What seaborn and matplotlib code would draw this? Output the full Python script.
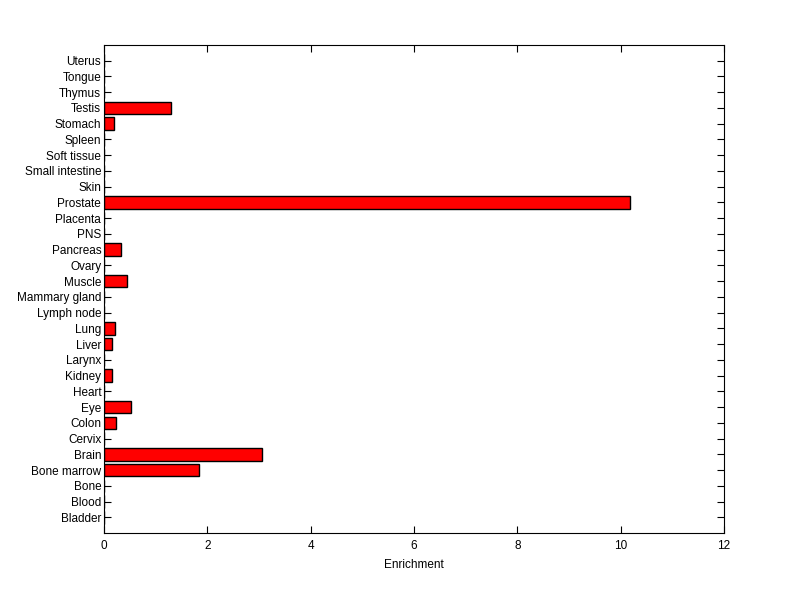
import matplotlib
matplotlib.use("Agg")
import matplotlib.pyplot as plt
import seaborn as sns
import pandas as pd

tissues = ["Bladder", "Blood", "Bone", "Bone marrow", "Brain", "Cervix", "Colon", "Eye",
           "Heart", "Kidney", "Larynx", "Liver", "Lung", "Lymph node", "Mammary gland",
           "Muscle", "Ovary", "Pancreas", "PNS", "Placenta", "Prostate", "Skin",
           "Small intestine", "Soft tissue", "Spleen", "Stomach", "Testis", "Thymus",
           "Tongue", "Uterus"]
enrichment = [0, 0, 0, 1.83, 3.05, 0, 0.24, 0.53,
              0, 0.16, 0, 0.16, 0.22, 0, 0,
              0.45, 0, 0.335, 0, 0, 10.18, 0,
              0, 0, 0, 0.20, 1.30, 0,
              0, 0]
xticks = [0, 2, 4, 6, 8, 10, 12]

sns.set_style("white")
plt.rcParams['font.family'] = ['Liberation Sans', 'DejaVu Sans']
plt.rcParams['text.color'] = 'black'
plt.rcParams['axes.labelcolor'] = 'black'
plt.rcParams['xtick.color'] = 'black'
plt.rcParams['ytick.color'] = 'black'

df = pd.DataFrame({"tissue": tissues, "enrichment": enrichment})
order = tissues[::-1]  # Uterus at top

fig = plt.figure(figsize=(8, 5.99), dpi=100)
ax = fig.add_axes([0.13, 0.11, 0.775, 0.815])
sns.barplot(data=df, x="enrichment", y="tissue", order=order, orient="h",
            color="red", saturation=1, edgecolor="black", linewidth=1,
            width=0.8, ax=ax)
ax.set_ylim(30, -1)
ax.set_xlim(0, 12)
ax.set_xticks(xticks)
ax.set_xticklabels([str(t) for t in xticks])
ax.set_xlabel("Enrichment", fontsize=8.5, color="black", labelpad=5)
ax.set_ylabel("")
ax.tick_params(direction="in", top=True, bottom=True, left=True, right=True,
               length=5, width=0.8, labelsize=8.5, color="black",
               labelcolor="black")
ax.tick_params(axis="y", pad=2)
ax.tick_params(axis="x", pad=5)
for s in ax.spines.values():
    s.set_visible(True)
    s.set_color("black")
    s.set_linewidth(0.8)
fig.savefig("out.png", dpi=100, facecolor="white")
